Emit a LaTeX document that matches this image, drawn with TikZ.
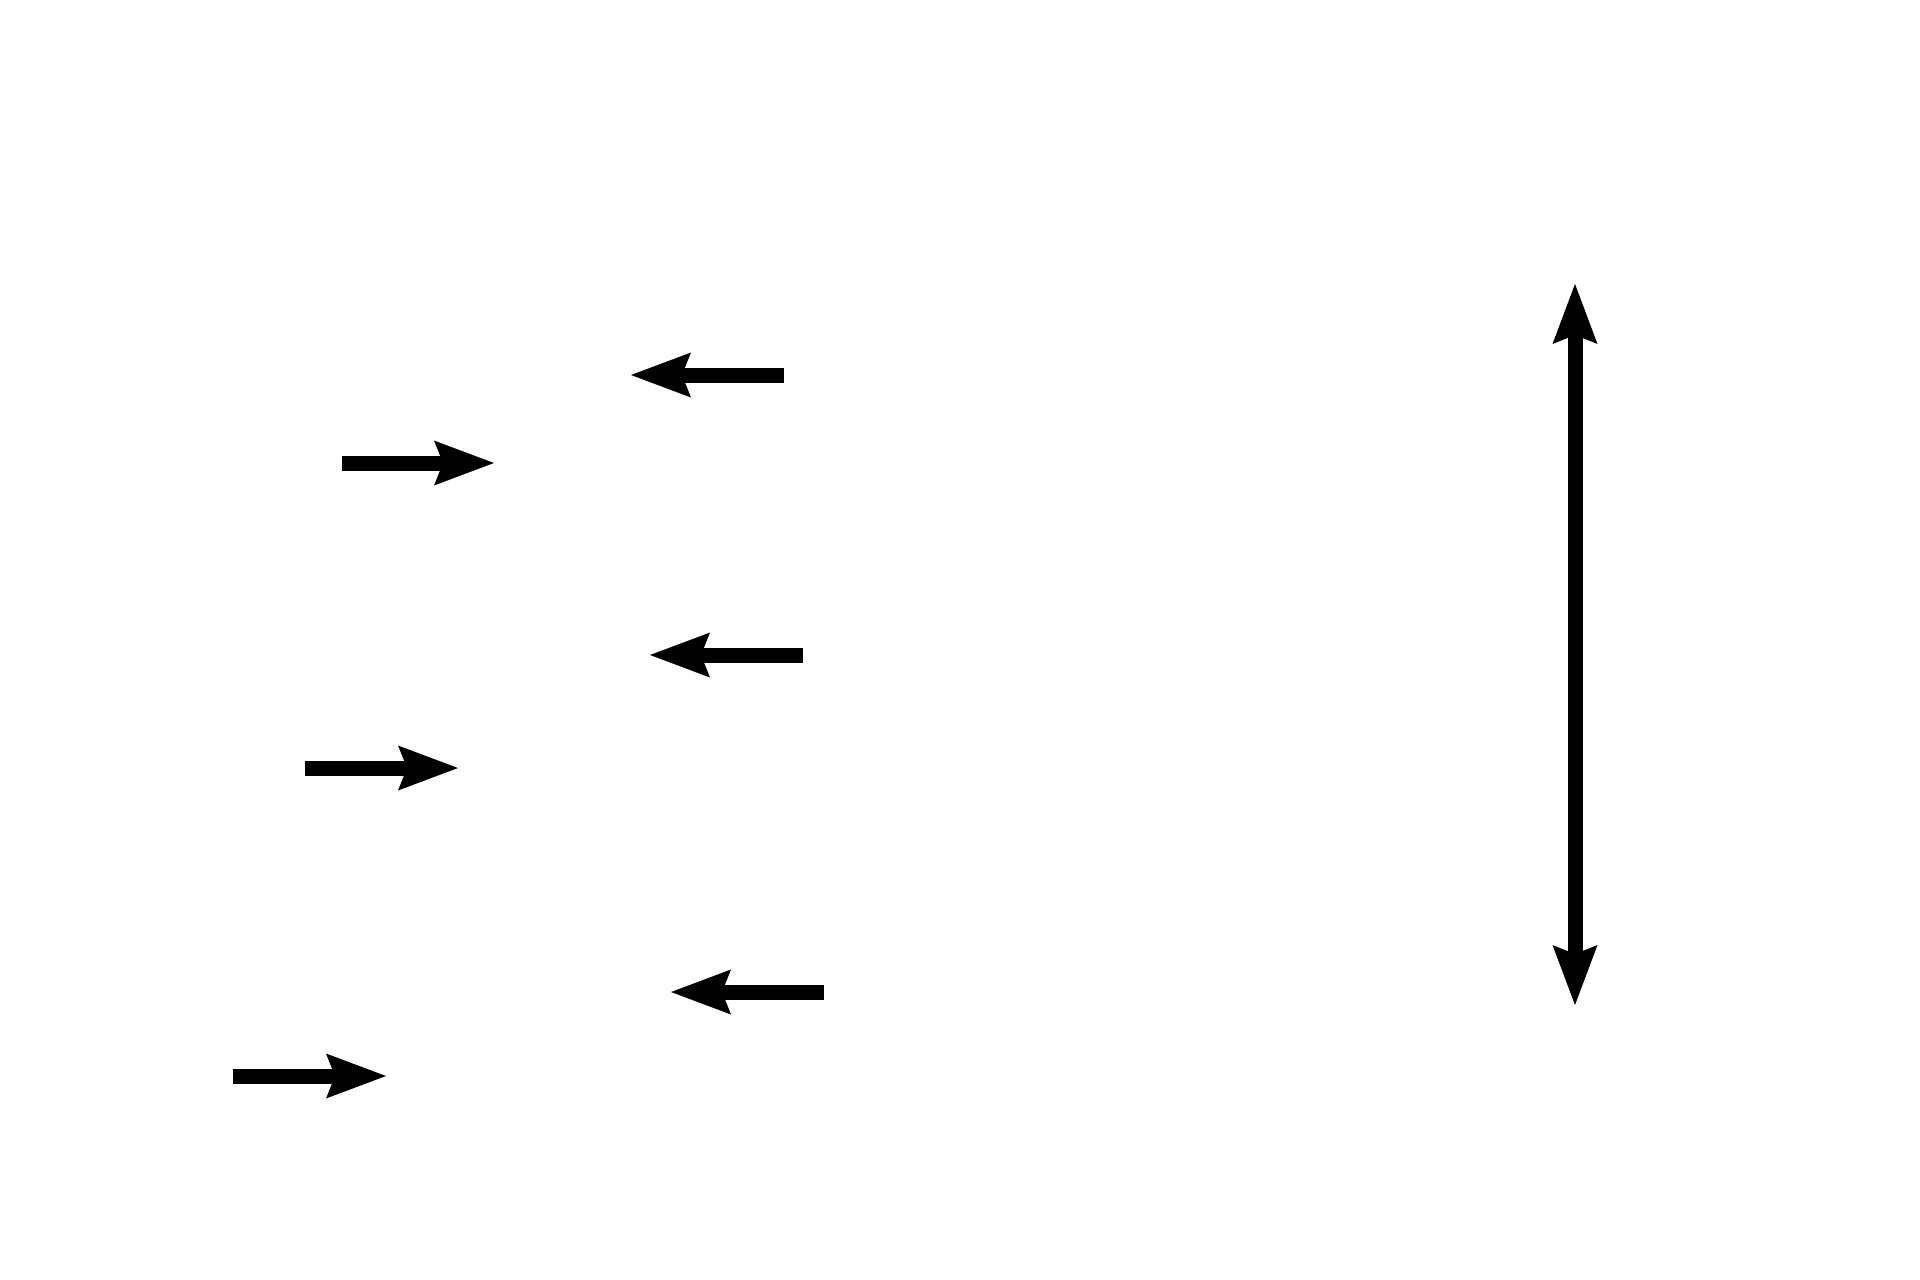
\documentclass[tikz,border=0pt]{standalone}
\usetikzlibrary{arrows.meta}
\begin{document}
\begin{tikzpicture}[x=1pt,y=-1pt,
  bigtip/.tip={Stealth[length=60pt,width=45pt,inset=9pt,line width=0pt]},
  fatarrow/.style={line width=15pt,-{bigtip}},
  fatboth/.style={line width=15pt,{bigtip}-{bigtip}}]
\fill[white] (0,0) rectangle (1920,1280);
\useasboundingbox (0,0) rectangle (1920,1280);
% left-pointing arrows
\coordinate (a1) at (784,375); \coordinate (a2) at (631,375);
\coordinate (c1) at (803,655); \coordinate (c2) at (650,655);
\coordinate (e1) at (824,992); \coordinate (e2) at (671,992);
% right-pointing arrows
\coordinate (b1) at (342,463); \coordinate (b2) at (494,463);
\coordinate (d1) at (305,768); \coordinate (d2) at (458,768);
\coordinate (f1) at (233,1076); \coordinate (f2) at (386,1076);
% vertical double arrow
\coordinate (vt) at (1575,284); \coordinate (vb) at (1575,1005);
\draw[fatarrow] (a1) -- (a2);
\draw[fatarrow] (c1) -- (c2);
\draw[fatarrow] (e1) -- (e2);
\draw[fatarrow] (b1) -- (b2);
\draw[fatarrow] (d1) -- (d2);
\draw[fatarrow] (f1) -- (f2);
\draw[fatboth] (vb) -- (vt);
\end{tikzpicture}
\end{document}
